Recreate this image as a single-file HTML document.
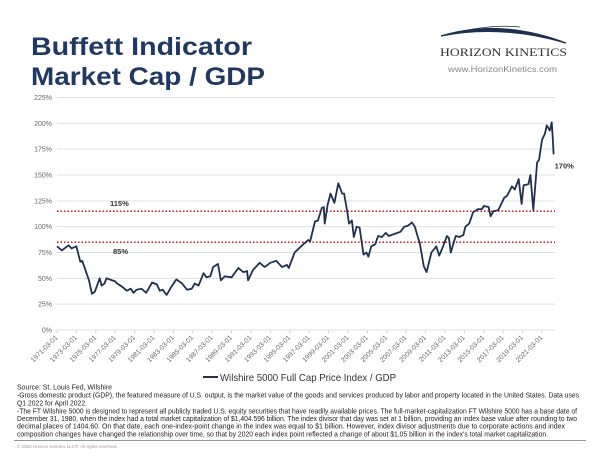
<!DOCTYPE html>
<html><head><meta charset="utf-8"><style>
html,body{margin:0;padding:0;background:#fff;}
svg{display:block;font-family:"Liberation Sans",Arial,sans-serif;}
</style></head><body>
<svg width="600" height="464" viewBox="0 0 600 464">
<g fill="#1f3864" font-weight="bold" font-size="25">
<text x="31" y="55" textLength="221" lengthAdjust="spacingAndGlyphs">Buffett Indicator</text>
<text x="31" y="85" textLength="234" lengthAdjust="spacingAndGlyphs">Market Cap / GDP</text>
</g>
<g>
<path d="M441,36 Q500,18 566,43 Q500,24 441,36Z" fill="#1f3050" stroke="#1f3050" stroke-width="1.2"/>
<path d="M455,33 Q490,24 520,27" fill="none" stroke="#1f3050" stroke-width="0.8"/>
<text x="440" y="56" font-family="Liberation Serif,serif" font-size="12" fill="#333" textLength="127" lengthAdjust="spacingAndGlyphs">HORIZON KINETICS</text>
<text x="448" y="72" font-size="8.5" fill="#888" textLength="109" lengthAdjust="spacingAndGlyphs">www.HorizonKinetics.com</text>
</g>
<g id="chart"></g>
<g>
<line x1="203" y1="377" x2="218" y2="377" stroke="#1f3050" stroke-width="2"/>
<text x="220" y="381" font-size="10.5" fill="#333" textLength="176" lengthAdjust="spacingAndGlyphs">Wilshire 5000 Full Cap Price Index / GDP</text>
</g>
<g font-size="7" fill="#222">
<text x="17" y="389.5" textLength="95" lengthAdjust="spacingAndGlyphs">Source: St. Louis Fed, Wilshire</text>
<text x="17" y="397.5" textLength="562" lengthAdjust="spacingAndGlyphs">-Gross domestic product (GDP), the featured measure of U.S. output, is the market value of the goods and services produced by labor and property located in the United States. Data uses</text>
<text x="17" y="405.5" textLength="70" lengthAdjust="spacingAndGlyphs">Q1 2022 for April 2022.</text>
<text x="17" y="413.5" textLength="560" lengthAdjust="spacingAndGlyphs">-The FT Wilshire 5000 is designed to represent all publicly traded U.S. equity securities that have readily available prices. The full-market-capitalization FT Wilshire 5000 has a base date of</text>
<text x="17" y="421" textLength="560" lengthAdjust="spacingAndGlyphs">December 31, 1980, when the index had a total market capitalization of $1,404.596 billion. The index divisor that day was set at 1 billion, providing an index base value after rounding to two</text>
<text x="17" y="428.5" textLength="548" lengthAdjust="spacingAndGlyphs">decimal places of 1404.60. On that date, each one-index-point change in the index was equal to $1 billion. However, index divisor adjustments due to corporate actions and index</text>
<text x="17" y="436.5" textLength="531" lengthAdjust="spacingAndGlyphs">composition changes have changed the relationship over time, so that by 2020 each index point reflected a change of about $1.05 billion in the index's total market capitalization.</text>
<line x1="14" y1="440.5" x2="586" y2="440.5" stroke="#8a9aa0" stroke-width="1"/>
<text x="17" y="448" font-size="4.5" fill="#999">© 2022 Horizon Kinetics LLC®. All rights reserved.</text>
</g>
</svg>
<script>
const years = [1971.0,1971.5,1972.2,1972.5,1973.0,1973.4,1973.6,1974.0,1974.3,1974.6,1974.9,1975.4,1975.6,1975.9,1976.1,1976.7,1977.0,1977.2,1977.7,1978.2,1978.6,1978.9,1979.2,1979.7,1980.2,1980.8,1981.3,1981.6,1981.9,1982.3,1982.8,1983.3,1983.9,1984.4,1984.9,1985.2,1985.6,1986.1,1986.4,1986.8,1987.1,1987.6,1987.9,1988.3,1989.0,1989.7,1990.2,1990.6,1990.7,1991.2,1991.9,1992.4,1993.0,1993.6,1994.2,1994.7,1994.9,1995.5,1996.4,1996.9,1997.1,1997.6,1997.9,1998.3,1998.5,1998.6,1998.9,1999.2,1999.6,2000.0,2000.4,2000.6,2000.9,2001.1,2001.4,2001.6,2001.9,2002.2,2002.6,2002.9,2003.1,2003.4,2003.8,2004.1,2004.5,2004.9,2005.2,2005.8,2006.4,2006.8,2007.2,2007.6,2007.9,2008.1,2008.4,2008.8,2009.1,2009.6,2010.1,2010.4,2010.8,2011.2,2011.4,2011.6,2012.1,2012.5,2012.9,2013.1,2013.5,2013.9,2014.4,2014.8,2015.0,2015.5,2015.7,2016.0,2016.5,2017.1,2017.4,2017.9,2018.2,2018.6,2018.9,2019.1,2019.6,2019.8,2020.1,2020.5,2020.7,2021.0,2021.3,2021.5,2021.8,2022.0,2022.1,2022.2];
const ratio = [81,77,82,79,81,66,67,56,48,35,37,50,43,45,50,48,47,45,42,38,40,36,39,40,36,46,44,38,39,34,42,49,45,39,40,45,43,55,51,52,61,64,48,52,51,60,56,57,48,58,65,61,65,67,61,63,60,75,83,87,86,105,106,118,119,103,121,132,123,142,132,132,116,103,106,90,100,99,73,75,71,81,83,91,90,94,91,93,95,100,101,104,100,93,84,62,56,75,81,72,81,91,89,75,91,90,92,100,103,114,117,117,120,119,110,115,116,128,130,139,136,146,122,140,141,150,116,162,165,184,190,198,193,201,187,170];
const yTicks = [0,25,50,75,100,125,150,175,200,225];
const xTickYears = [1971,1973,1975,1977,1979,1981,1983,1985,1987,1989,1991,1993,1995,1997,1999,2001,2003,2005,2007,2009,2011,2013,2015,2017,2019,2021];
const refLevels = [115,85];
const lastLabel = ["170%"];

const NS="http://www.w3.org/2000/svg";
const X0=57,X1=555,Y0=330,Y225=97.5;
const xs = yr => X0 + (yr-1971)*9.7;
const ys = v => Y0 - v*(Y0-Y225)/225;
const chart=document.getElementById('chart');
function mk(tag,attrs,parent){const e=document.createElementNS(NS,tag);for(const k in attrs)e.setAttribute(k,attrs[k]);(parent||chart).appendChild(e);return e;}

yTicks.forEach(v=>{
  const g=mk('line',{x1:X0,x2:X1,y1:ys(v),y2:ys(v),stroke:'#e0e0e0','stroke-width':1});
  
  
  const t=mk('text',{x:52,y:ys(v)+2.5,'font-size':7,fill:'#666','text-anchor':'end'});
  t.textContent=v+'%';
  
  
});
xTickYears.forEach(yr=>{
  const x=xs(yr);
  const tk=mk('line',{x1:x,x2:x,y1:Y0,y2:Y0+3,stroke:'#d0d0d0','stroke-width':1});
  
  
  const t=mk('text',{x:x+1,y:Y0+8,'font-size':6.8,fill:'#666','text-anchor':'end',transform:'rotate(-45 '+(x+1)+' '+(Y0+8)+')'});
  t.textContent=yr+'-03-01';
  
  
});
refLevels.forEach((v,i)=>{
  const l=mk('line',{x1:X0,x2:X1,y1:ys(v),y2:ys(v),stroke:'#c00000','stroke-width':1.3,'stroke-dasharray':'1.5,2'});
  
  
  const t=mk('text',{x:i==0?110:113,y:i==0?ys(v)-5:ys(v)+12,'font-size':7.5,fill:'#333','font-weight':'bold'});
  t.textContent=v+'%';
  
  
});
const pts=years.map((y,i)=>xs(y).toFixed(1)+','+ys(ratio[i]).toFixed(1)).join(' ');
const pl=mk('polyline',{points:pts,fill:'none',stroke:'#1f3050','stroke-width':1.8,'stroke-linejoin':'round'});


const n=years.length-1;
const lt=mk('text',{x:xs(years[n])+1,y:ys(ratio[n])+14,'font-size':7.5,fill:'#333','font-weight':'bold'});
lt.textContent=lastLabel[0];


</script>
</body></html>
